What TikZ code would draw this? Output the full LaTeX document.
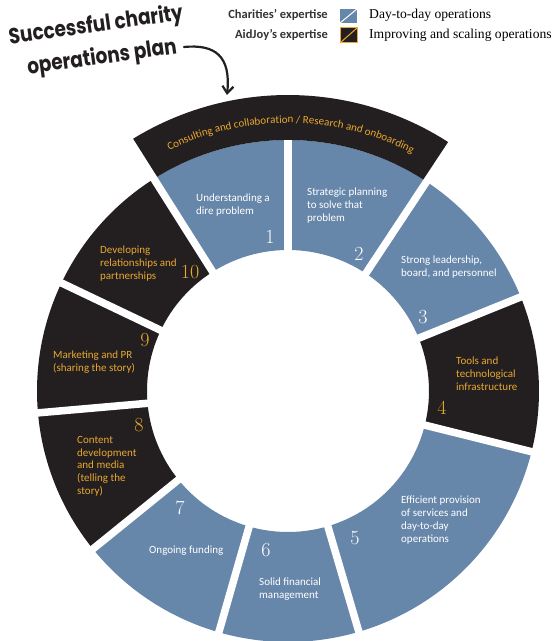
\documentclass[tikz,border=0pt]{standalone}
\usepackage{fontspec}
\usetikzlibrary{decorations.text,arrows.meta}
\newfontfamily\carl{Carlito}
\newfontfamily\legserif{Liberation Serif}
\newfontfamily\handfont{Poppins}
\definecolor{segblue}{HTML}{6787AA}
\definecolor{segblack}{HTML}{231F20}
\definecolor{gold}{HTML}{E9A82F}
\definecolor{leggray}{HTML}{333333}
\newcommand\ringseg[3]{\fill[#3] (#1:141) arc[start angle=#1,end angle=#2,radius=141] -- (#2:251) arc[start angle=#2,end angle=#1,radius=251] -- cycle;}
\tikzset{
  segtext/.style={anchor=north west, inner sep=0pt, align=left, font=\carl\fontsize{11}{12.8}\selectfont},
  wtext/.style={segtext, text=white},
  gtext/.style={segtext, text=gold},
  numw/.style={inner sep=0pt, font=\fontsize{20}{20}\selectfont, text=white},
  numg/.style={inner sep=0pt, font=\fontsize{20}{20}\selectfont, text=gold},
  gapline/.style={white, line width=7.5pt},
  legsans/.style={anchor=east, inner sep=0pt, font=\carl\bfseries\fontsize{12.5}{14}\selectfont, text=leggray},
  legser/.style={anchor=west, inner sep=0pt, font=\legserif\fontsize{13.6}{15}\selectfont, text=black},
  titletext/.style={inner sep=0pt, rotate=8, font=\handfont\bfseries\fontsize{22}{24}\selectfont, text=segblack}
}
\begin{document}
\begin{tikzpicture}[x=1pt,y=1pt]
\useasboundingbox (0,0) rectangle (559,641);
\begin{scope}[shift={(288,250)}]
  \ringseg{90}{122.3}{segblue}
  \ringseg{56.5}{90}{segblue}
  \ringseg{22}{56.5}{segblue}
  \ringseg{-14}{22}{segblack}
  \ringseg{-73.6}{-14}{segblue}
  \ringseg{-106}{-73.6}{segblue}
  \ringseg{-141}{-106}{segblue}
  \ringseg{-175}{-141}{segblack}
  \ringseg{154.5}{185}{segblack}
  \ringseg{122.3}{154.5}{segblack}
  \fill[segblack] (56.5:251) arc[start angle=56.5,end angle=122.3,radius=251] -- (122.3:296) arc[start angle=122.3,end angle=56.5,radius=296] -- cycle;
  \foreach \a in {56.5,22,-14,-73.6,-106,-141,-175,154.5,122.3}
    \draw[gapline] (\a:125) -- (\a:300);
  \draw[gapline] (90:125) -- (90:251);
  \path[decorate, decoration={text along path, text align=center,
    text={|\carl\fontsize{11}{12}\selectfont\color{gold}|Consulting and collaboration / Research and onboarding}}]
    (122.3:268) arc[start angle=122.3,end angle=56.5,radius=268];
\end{scope}
% segment texts
\node[wtext] (t1) at (196,447) {Understanding a\\dire problem};
\node[wtext] (t2) at (307,453) {Strategic planning\\to solve that\\problem};
\node[wtext] (t3) at (401,385) {Strong leadership,\\board, and personnel};
\node[gtext] (t4) at (456,284) {Tools and\\technological\\infrastructure};
\node[wtext] (t5) at (401,145) {Efficient provision\\of services and\\day-to-day\\operations};
\node[wtext] (t6) at (259,63) {Solid financial\\management};
\node[wtext] (t7) at (149,95) {Ongoing funding};
\node[gtext] (t8) at (77,205) {Content\\development\\and media\\(telling the\\story)};
\node[gtext] (t9) at (53,290) {Marketing and PR\\(sharing the story)};
\node[gtext] (t10) at (100,395) {Developing\\relationships and\\partnerships};
% numbers
\node[numw] (n1) at (270,404) {1};
\node[numw] (n2) at (359,387) {2};
\node[numw] (n3) at (423,324) {3};
\node[numg] (n4) at (442,233) {4};
\node[numw] (n5) at (355,103) {5};
\node[numw] (n6) at (266,91) {6};
\node[numw] (n7) at (180,133) {7};
\node[numg] (n8) at (139,216) {8};
\node[numg] (n9) at (145,301) {9};
\node[numg] (n10) at (190,369) {10};
% legend
\node[legsans] (l1) at (328,626) {Charities’ expertise};
\node[legsans] (l2) at (328,606) {AidJoy’s expertise};
\fill[segblue] (340,618) rectangle (357,632);
\draw[white, line width=1pt] (340,618) -- (357,632);
\fill[segblack] (340,598) rectangle (357,613);
\draw[gold, line width=1pt] (340,598) rectangle (357,613);
\draw[gold, line width=1pt] (340,598) -- (357,613);
\node[legser] (l3) at (369,626) {Day-to-day operations};
\node[legser] (l4) at (369,606) {Improving and scaling operations};
% title
\node[titletext] (ti1) at (96,615) {\scalebox{0.84}[1]{Successful charity}};
\node[titletext] (ti2) at (102,583) {\scalebox{0.84}[1]{operations plan}};
\coordinate (arrs) at (184,594);
\coordinate (arre) at (227,546);
\draw[segblack, line width=2.2pt, line cap=round, -{Straight Barb[length=7pt,width=11pt]}] (arrs) .. controls (215,597) and (231,585) .. (arre);
\end{tikzpicture}
\end{document}
